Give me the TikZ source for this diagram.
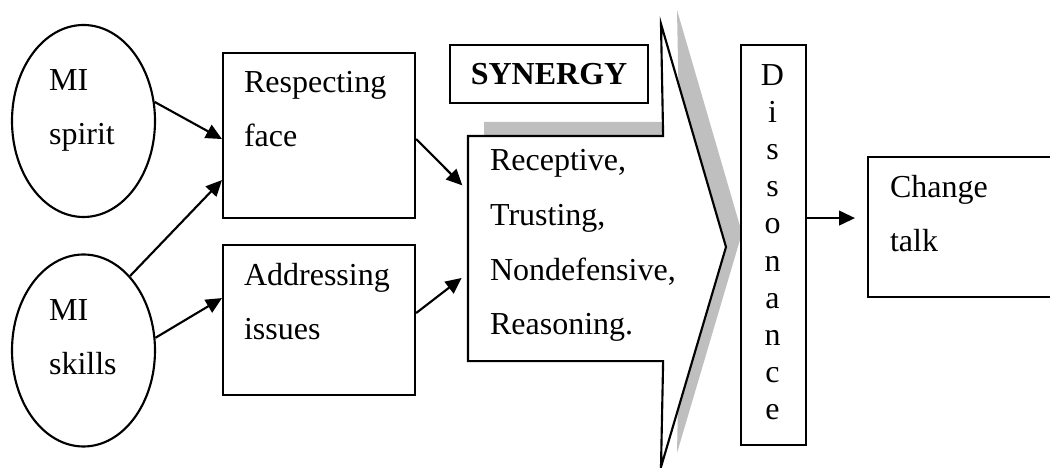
\documentclass[tikz,border=0pt]{standalone}
\usepackage{fontspec}
\setmainfont{Liberation Serif}
\usetikzlibrary{shapes.geometric,arrows.meta,calc,positioning}

\begin{document}
\begin{tikzpicture}[x=0.375pt,y=-0.375pt,thick,
    >={Triangle[length=6pt,width=5.5pt]},
    txt/.style={font=\fontsize{12pt}{20.6pt}\selectfont,align=left,inner sep=0pt,anchor=base west},
    box/.style={draw,rectangle,inner sep=0pt,anchor=north west},
    oval/.style={draw,ellipse,inner sep=0pt,minimum width=143*0.375pt,minimum height=192*0.375pt}]
  \clip (0,0) rectangle (1050,468);

  % the big arrow with its grey shadow
  \node (synergyBody)
        [inner sep=0pt,anchor=north west,minimum width=193*0.375pt,minimum height=223*0.375pt]
        at (468,136) {};
  \coordinate (tipTop) at (661,24);
  \coordinate (tip) at (726,247);
  \coordinate (tipBottom) at (661,467);
  \begin{scope}[transform canvas={shift={(16,-14)}}]
    \fill[gray!50] (synergyBody.north west) -- (synergyBody.north east) -- (tipTop)
      -- (tip) -- (tipBottom) -- (synergyBody.south east) -- (synergyBody.south west) -- cycle;
  \end{scope}
  \draw[fill=white] (synergyBody.north west) -- (synergyBody.north east) -- (tipTop)
    -- (tip) -- (tipBottom) -- (synergyBody.south east) -- (synergyBody.south west) -- cycle;
  % text nodes sit on the baseline of their last line
  \node (synergyText)
        [txt]
        at (489,335)
        {Receptive,\\Trusting,\\Nondefensive,\\Reasoning.};

  \node (miSpirit)
        [oval]
        at (83.5,121) {};
  \node (miSpiritText)
        [txt]
        at (48,145)
        {MI\\spirit};
  \node (miSkills)
        [oval]
        at (83.5,350.5) {};
  \node (miSkillsText)
        [txt]
        at (48,375)
        {MI\\skills};

  \node (respFace)
        [box,minimum width=192*0.375pt,minimum height=165*0.375pt]
        at (222,52) {};
  \node (respFaceText)
        [txt]
        at (243,147)
        {Respecting\\face};
  \node (addrIssues)
        [box,minimum width=192*0.375pt,minimum height=150*0.375pt]
        at (222,244) {};
  \node (addrIssuesText)
        [txt]
        at (243,340)
        {Addressing\\issues};

  \node (synergyLabel)
        [box,minimum width=198*0.375pt,minimum height=58*0.375pt,font=\bfseries\fontsize{12pt}{14pt}\selectfont]
        at (449,44)
        {SYNERGY};

  \node (dissonance)
        [box,fill=white,minimum width=65*0.375pt,minimum height=400*0.375pt]
        at (740,44) {};
  \node (dissonanceText)
        [font=\fontsize{12pt}{13.95pt}\selectfont,align=center,inner sep=0pt,anchor=base]
        at (772.5,420)
        {D\\i\\s\\s\\o\\n\\a\\n\\c\\e};

  \node (changeTalk)
        [box,minimum width=200*0.375pt,minimum height=140*0.375pt]
        at (867,156) {};
  \node (changeTalkText)
        [txt]
        at (889,252)
        {Change\\talk};

  \coordinate (dissOut) at ($(dissonance.east)+(0,-27)$);

  \draw[->] (miSpirit.15) -- ($(respFace.west)+(0,3.5)$);
  \draw[->] (miSkills.58) -- ($(respFace.west)+(0,44.5)$);
  \draw[->] (miSkills.10) -- ($(addrIssues.west)+(0,-22)$);
  \draw[->,shorten >=3pt] ($(respFace.east)+(0,3.5)$) -- ($(synergyBody.west)+(0,-57.5)$);
  \draw[->,shorten >=3pt] ($(addrIssues.east)+(0,-7)$) -- ($(synergyBody.west)+(0,24.5)$);
  \draw[->,shorten >=4.5pt] (dissOut) -- (dissOut -| changeTalk.west);
\end{tikzpicture}
\end{document}
